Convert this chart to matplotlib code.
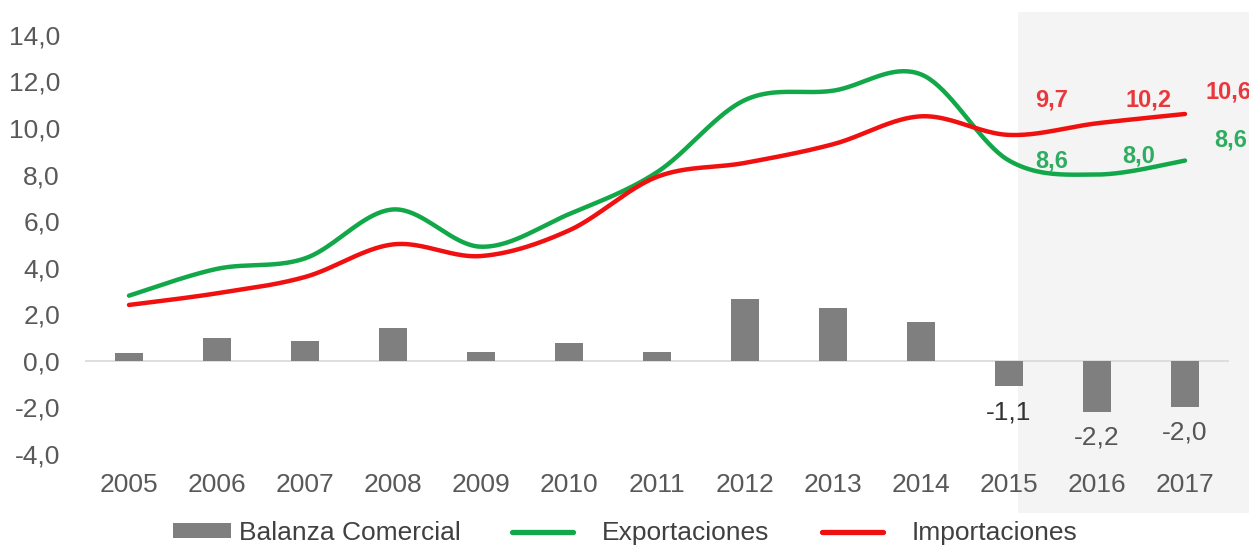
import numpy as np
import matplotlib
matplotlib.use("Agg")
import matplotlib.pyplot as plt
from matplotlib.patches import Rectangle
from matplotlib.legend_handler import HandlerLine2D

# Trade data, billions
years = ["2005", "2006", "2007", "2008", "2009", "2010", "2011",
         "2012", "2013", "2014", "2015", "2016", "2017"]
balanza = [0.35, 1.0, 0.85, 1.4, 0.4, 0.75, 0.4, 2.65, 2.25, 1.65, -1.1, -2.2, -2.0]
exportaciones = [2.8, 3.95, 4.4, 6.5, 4.9, 6.3, 8.1, 11.2, 11.6, 12.3, 8.6, 8.0, 8.6]
importaciones = [2.4, 2.9, 3.6, 5.0, 4.5, 5.6, 7.9, 8.5, 9.3, 10.5, 9.7, 10.2, 10.6]
labelled_years = ["2015", "2016", "2017"]

plt.rcParams["font.family"] = ["Liberation Sans", "DejaVu Sans"]

GREEN = "#12a84a"
RED = "#f01010"
GREEN_TXT = "#2eac60"
RED_TXT = "#e8383d"
GREY_BAR = "#7f7f7f"
TICK_TXT = "#595959"


def smooth(xs, ys, n=40):
    """Catmull-Rom curve through the points (spreadsheet-style smoothed line)."""
    xs = np.asarray(xs, float)
    ys = np.asarray(ys, float)
    px = np.concatenate([[xs[0]], xs, [xs[-1]]])
    py = np.concatenate([[ys[0]], ys, [ys[-1]]])
    out_x, out_y = [], []
    for i in range(1, len(px) - 2):
        p0, p1, p2, p3 = (np.array([px[j], py[j]]) for j in (i - 1, i, i + 1, i + 2))
        c1 = p1 + (p2 - p0) / 6.0
        c2 = p2 - (p3 - p1) / 6.0
        t = np.linspace(0, 1, n, endpoint=(i == len(px) - 3))[:, None]
        pts = ((1 - t) ** 3) * p1 + 3 * ((1 - t) ** 2) * t * c1 + 3 * (1 - t) * t ** 2 * c2 + t ** 3 * p2
        out_x.append(pts[:, 0])
        out_y.append(pts[:, 1])
    return np.concatenate(out_x), np.concatenate(out_y)


class ShiftedLineHandler(HandlerLine2D):
    """Legend line sample shifted left, leaving a wider gap before the text."""
    def get_xdata(self, legend, xdescent, ydescent, width, height, fontsize):
        x = np.array([-0.41 * width, 0.63 * width]) - xdescent
        return x, x


fig = plt.figure(figsize=(12.49, 5.45), dpi=100)

# shaded forecast band behind the plot
fig.patches.append(Rectangle((1018 / 1249, 32 / 545), 1 - 1018 / 1249, (513 - 12) / 545,
                             transform=fig.transFigure, facecolor="#f4f4f4",
                             edgecolor="none", zorder=-1))

ax = fig.add_axes([85 / 1249, 91 / 545, (1229 - 85) / 1249, (454 - 34.8) / 545])
ax.patch.set_alpha(0)

x = np.arange(len(years))
ax.axhline(0, color="#d9d9d9", lw=1.2, zorder=1)
bars = ax.bar(x, balanza, width=0.32, color=GREY_BAR, zorder=2, label="Balanza Comercial")

sx, sy = smooth(x, exportaciones)
l_exp, = ax.plot(sx, sy, color=GREEN, lw=3.2, zorder=3, solid_capstyle="round",
                 label="Exportaciones")
sx, sy = smooth(x, importaciones)
l_imp, = ax.plot(sx, sy, color=RED, lw=3.2, zorder=3, solid_capstyle="round",
                 label="Importaciones")

ax.set_xlim(-0.5, len(years) - 0.5)
ax.set_ylim(-4, 14)
yt = np.arange(-4, 15, 2)
ax.set_yticks(yt)
ax.set_yticklabels([f"{v:.1f}".replace(".", ",") for v in yt])
ax.set_xticks(x)
ax.set_xticklabels(years)
for s in ax.spines.values():
    s.set_visible(False)
ax.tick_params(axis="y", length=0, pad=18, labelsize=19, labelcolor=TICK_TXT)
ax.tick_params(axis="x", length=0, pad=14, labelsize=19, labelcolor=TICK_TXT)


def fmt(v):
    return f"{v:.1f}".replace(".", ",")


# value labels for the last years
red_off = [(31, 25), (37, 17), (31, 16)]
green_off = [(31, 0), (30, 13), (33, 15)]
bar_off = [-19, -18, -18]
bar_col = ["#333333", "#555555", "#555555"]
for k, yr in enumerate(labelled_years):
    i = years.index(yr)
    ax.annotate(fmt(importaciones[i]), (x[i], importaciones[i]), xytext=red_off[k],
                textcoords="offset points", ha="center", va="center",
                fontsize=17, fontweight="bold", color=RED_TXT, zorder=5,
                annotation_clip=False)
    ax.annotate(fmt(exportaciones[i]), (x[i], exportaciones[i]), xytext=green_off[k],
                textcoords="offset points", ha="center", va="center",
                fontsize=17, fontweight="bold", color=GREEN_TXT, zorder=5,
                annotation_clip=False)
    ax.annotate(fmt(balanza[i]), (x[i], balanza[i]), xytext=(0, bar_off[k]),
                textcoords="offset points", ha="center", va="center",
                fontsize=19, color=bar_col[k], zorder=5)

leg = fig.legend([bars, l_exp, l_imp],
                 ["Balanza Comercial", "Exportaciones", "Importaciones"],
                 handler_map={l_exp: ShiftedLineHandler(), l_imp: ShiftedLineHandler()},
                 loc="center", bbox_to_anchor=(0.5004, 0.022), ncol=3, frameon=False,
                 fontsize=19, handlelength=2.23, handleheight=0.5, handletextpad=0.27,
                 columnspacing=2.88, labelcolor="#404040", borderpad=0, borderaxespad=0)
for h in leg.legend_handles[1:]:
    h.set_linewidth(3.8)

fig.savefig("out.png", dpi=100)
